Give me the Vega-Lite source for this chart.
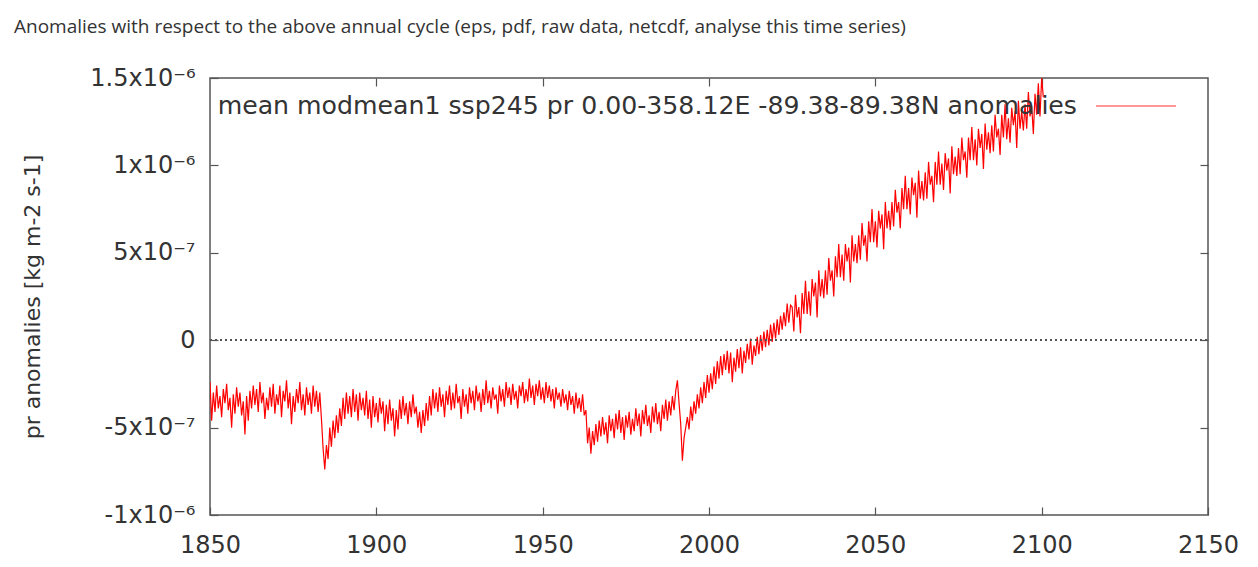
{
"$schema": "https://vega.github.io/schema/vega-lite/v6.json",
"width": 998, "height": 437,
"autosize": {"type": "none"},
"padding": {"left": 210, "top": 78, "right": 50, "bottom": 52},
"background": "white",
"title": {"text": "Anomalies with respect to the above annual cycle (eps, pdf, raw data, netcdf, analyse this time series)", "anchor": "start", "frame": "group", "dx": -196, "offset": 28, "fontSize": 19, "font": "Open Sans", "fontWeight": "normal", "color": "#333333"},
"config": {
  "view": {"stroke": "#555555", "strokeWidth": 1.5},
  "axis": {"domain": false, "grid": false, "tickColor": "#555555", "tickSize": -8, "tickWidth": 1.2, "labelFont": "DejaVu Sans", "labelFontSize": 24, "labelColor": "#333333", "titleFont": "DejaVu Sans", "titleFontWeight": "normal", "titleColor": "#333333"}
},
"data": {"values": [
{"year":1850.0,"pr":-2.4e-7},{"year":1850.5,"pr":-4.6e-7},{"year":1851.0,"pr":-3.0e-7},{"year":1851.5,"pr":-4.1e-7},{"year":1852.0,"pr":-2.6e-7},{"year":1852.5,"pr":-3.9e-7},{"year":1853.0,"pr":-3.2e-7},{"year":1853.5,"pr":-4.4e-7},{"year":1854.0,"pr":-2.8e-7},{"year":1854.5,"pr":-3.6e-7},
{"year":1855.0,"pr":-2.5e-7},{"year":1855.5,"pr":-4.0e-7},{"year":1856.0,"pr":-3.3e-7},{"year":1856.5,"pr":-5.0e-7},{"year":1857.0,"pr":-3.1e-7},{"year":1857.5,"pr":-4.2e-7},{"year":1858.0,"pr":-2.7e-7},{"year":1858.5,"pr":-3.8e-7},{"year":1859.0,"pr":-3.0e-7},{"year":1859.5,"pr":-4.3e-7},
{"year":1860.0,"pr":-3.5e-7},{"year":1860.5,"pr":-5.4e-7},{"year":1861.0,"pr":-3.2e-7},{"year":1861.5,"pr":-4.6e-7},{"year":1862.0,"pr":-2.9e-7},{"year":1862.5,"pr":-3.9e-7},{"year":1863.0,"pr":-2.6e-7},{"year":1863.5,"pr":-3.7e-7},{"year":1864.0,"pr":-2.8e-7},{"year":1864.5,"pr":-4.1e-7},
{"year":1865.0,"pr":-2.4e-7},{"year":1865.5,"pr":-3.6e-7},{"year":1866.0,"pr":-3.0e-7},{"year":1866.5,"pr":-4.5e-7},{"year":1867.0,"pr":-3.3e-7},{"year":1867.5,"pr":-4.0e-7},{"year":1868.0,"pr":-2.7e-7},{"year":1868.5,"pr":-3.8e-7},{"year":1869.0,"pr":-2.5e-7},{"year":1869.5,"pr":-4.2e-7},
{"year":1870.0,"pr":-3.1e-7},{"year":1870.5,"pr":-3.7e-7},{"year":1871.0,"pr":-2.6e-7},{"year":1871.5,"pr":-4.4e-7},{"year":1872.0,"pr":-2.9e-7},{"year":1872.5,"pr":-3.5e-7},{"year":1873.0,"pr":-2.3e-7},{"year":1873.5,"pr":-3.9e-7},{"year":1874.0,"pr":-3.0e-7},{"year":1874.5,"pr":-4.8e-7},
{"year":1875.0,"pr":-3.2e-7},{"year":1875.5,"pr":-4.1e-7},{"year":1876.0,"pr":-2.8e-7},{"year":1876.5,"pr":-3.6e-7},{"year":1877.0,"pr":-2.4e-7},{"year":1877.5,"pr":-4.0e-7},{"year":1878.0,"pr":-3.1e-7},{"year":1878.5,"pr":-4.3e-7},{"year":1879.0,"pr":-2.7e-7},{"year":1879.5,"pr":-3.7e-7},
{"year":1880.0,"pr":-3.0e-7},{"year":1880.5,"pr":-4.2e-7},{"year":1881.0,"pr":-2.6e-7},{"year":1881.5,"pr":-3.8e-7},{"year":1882.0,"pr":-2.9e-7},{"year":1882.5,"pr":-4.1e-7},{"year":1883.0,"pr":-3.0e-7},{"year":1883.5,"pr":-4.5e-7},{"year":1884.0,"pr":-6.2e-7},{"year":1884.5,"pr":-7.4e-7},
{"year":1885.0,"pr":-6.0e-7},{"year":1885.5,"pr":-6.8e-7},{"year":1886.0,"pr":-5.0e-7},{"year":1886.5,"pr":-6.1e-7},{"year":1887.0,"pr":-4.6e-7},{"year":1887.5,"pr":-5.6e-7},{"year":1888.0,"pr":-4.3e-7},{"year":1888.5,"pr":-5.3e-7},{"year":1889.0,"pr":-3.9e-7},{"year":1889.5,"pr":-4.9e-7},
{"year":1890.0,"pr":-3.3e-7},{"year":1890.5,"pr":-4.5e-7},{"year":1891.0,"pr":-3.0e-7},{"year":1891.5,"pr":-4.2e-7},{"year":1892.0,"pr":-3.2e-7},{"year":1892.5,"pr":-4.4e-7},{"year":1893.0,"pr":-2.8e-7},{"year":1893.5,"pr":-4.1e-7},{"year":1894.0,"pr":-3.1e-7},{"year":1894.5,"pr":-4.6e-7},
{"year":1895.0,"pr":-3.0e-7},{"year":1895.5,"pr":-4.0e-7},{"year":1896.0,"pr":-3.3e-7},{"year":1896.5,"pr":-4.3e-7},{"year":1897.0,"pr":-2.9e-7},{"year":1897.5,"pr":-4.5e-7},{"year":1898.0,"pr":-3.4e-7},{"year":1898.5,"pr":-5.0e-7},{"year":1899.0,"pr":-3.2e-7},{"year":1899.5,"pr":-4.4e-7},
{"year":1900.0,"pr":-3.6e-7},{"year":1900.5,"pr":-4.7e-7},{"year":1901.0,"pr":-3.3e-7},{"year":1901.5,"pr":-4.2e-7},{"year":1902.0,"pr":-3.5e-7},{"year":1902.5,"pr":-5.2e-7},{"year":1903.0,"pr":-3.7e-7},{"year":1903.5,"pr":-4.8e-7},{"year":1904.0,"pr":-3.4e-7},{"year":1904.5,"pr":-4.6e-7},
{"year":1905.0,"pr":-3.9e-7},{"year":1905.5,"pr":-5.5e-7},{"year":1906.0,"pr":-4.0e-7},{"year":1906.5,"pr":-5.1e-7},{"year":1907.0,"pr":-3.4e-7},{"year":1907.5,"pr":-4.5e-7},{"year":1908.0,"pr":-3.2e-7},{"year":1908.5,"pr":-4.3e-7},{"year":1909.0,"pr":-3.6e-7},{"year":1909.5,"pr":-4.8e-7},
{"year":1910.0,"pr":-3.5e-7},{"year":1910.5,"pr":-4.4e-7},{"year":1911.0,"pr":-3.1e-7},{"year":1911.5,"pr":-4.2e-7},{"year":1912.0,"pr":-3.8e-7},{"year":1912.5,"pr":-5.0e-7},{"year":1913.0,"pr":-4.1e-7},{"year":1913.5,"pr":-5.3e-7},{"year":1914.0,"pr":-4.0e-7},{"year":1914.5,"pr":-4.9e-7},
{"year":1915.0,"pr":-3.6e-7},{"year":1915.5,"pr":-4.6e-7},{"year":1916.0,"pr":-3.2e-7},{"year":1916.5,"pr":-4.3e-7},{"year":1917.0,"pr":-2.8e-7},{"year":1917.5,"pr":-3.9e-7},{"year":1918.0,"pr":-3.0e-7},{"year":1918.5,"pr":-4.1e-7},{"year":1919.0,"pr":-2.7e-7},{"year":1919.5,"pr":-3.8e-7},
{"year":1920.0,"pr":-3.1e-7},{"year":1920.5,"pr":-4.4e-7},{"year":1921.0,"pr":-2.9e-7},{"year":1921.5,"pr":-3.7e-7},{"year":1922.0,"pr":-2.6e-7},{"year":1922.5,"pr":-4.0e-7},{"year":1923.0,"pr":-3.0e-7},{"year":1923.5,"pr":-3.9e-7},{"year":1924.0,"pr":-2.5e-7},{"year":1924.5,"pr":-3.6e-7},
{"year":1925.0,"pr":-3.2e-7},{"year":1925.5,"pr":-4.5e-7},{"year":1926.0,"pr":-2.8e-7},{"year":1926.5,"pr":-3.8e-7},{"year":1927.0,"pr":-3.1e-7},{"year":1927.5,"pr":-4.2e-7},{"year":1928.0,"pr":-2.7e-7},{"year":1928.5,"pr":-3.6e-7},{"year":1929.0,"pr":-2.9e-7},{"year":1929.5,"pr":-4.0e-7},
{"year":1930.0,"pr":-2.6e-7},{"year":1930.5,"pr":-3.5e-7},{"year":1931.0,"pr":-3.0e-7},{"year":1931.5,"pr":-4.1e-7},{"year":1932.0,"pr":-2.8e-7},{"year":1932.5,"pr":-3.7e-7},{"year":1933.0,"pr":-2.3e-7},{"year":1933.5,"pr":-3.6e-7},{"year":1934.0,"pr":-2.9e-7},{"year":1934.5,"pr":-3.9e-7},
{"year":1935.0,"pr":-2.7e-7},{"year":1935.5,"pr":-3.4e-7},{"year":1936.0,"pr":-3.1e-7},{"year":1936.5,"pr":-4.2e-7},{"year":1937.0,"pr":-2.6e-7},{"year":1937.5,"pr":-3.5e-7},{"year":1938.0,"pr":-2.8e-7},{"year":1938.5,"pr":-3.8e-7},{"year":1939.0,"pr":-2.4e-7},{"year":1939.5,"pr":-3.3e-7},
{"year":1940.0,"pr":-2.7e-7},{"year":1940.5,"pr":-3.7e-7},{"year":1941.0,"pr":-2.5e-7},{"year":1941.5,"pr":-3.4e-7},{"year":1942.0,"pr":-2.9e-7},{"year":1942.5,"pr":-3.9e-7},{"year":1943.0,"pr":-2.6e-7},{"year":1943.5,"pr":-3.2e-7},{"year":1944.0,"pr":-2.4e-7},{"year":1944.5,"pr":-3.6e-7},
{"year":1945.0,"pr":-2.8e-7},{"year":1945.5,"pr":-3.5e-7},{"year":1946.0,"pr":-2.2e-7},{"year":1946.5,"pr":-3.3e-7},{"year":1947.0,"pr":-2.6e-7},{"year":1947.5,"pr":-3.7e-7},{"year":1948.0,"pr":-2.5e-7},{"year":1948.5,"pr":-3.2e-7},{"year":1949.0,"pr":-2.3e-7},{"year":1949.5,"pr":-3.4e-7},
{"year":1950.0,"pr":-2.7e-7},{"year":1950.5,"pr":-3.6e-7},{"year":1951.0,"pr":-2.4e-7},{"year":1951.5,"pr":-3.3e-7},{"year":1952.0,"pr":-2.6e-7},{"year":1952.5,"pr":-3.5e-7},{"year":1953.0,"pr":-2.8e-7},{"year":1953.5,"pr":-3.9e-7},{"year":1954.0,"pr":-2.7e-7},{"year":1954.5,"pr":-3.4e-7},
{"year":1955.0,"pr":-3.0e-7},{"year":1955.5,"pr":-3.8e-7},{"year":1956.0,"pr":-2.8e-7},{"year":1956.5,"pr":-3.6e-7},{"year":1957.0,"pr":-3.1e-7},{"year":1957.5,"pr":-4.0e-7},{"year":1958.0,"pr":-2.9e-7},{"year":1958.5,"pr":-3.7e-7},{"year":1959.0,"pr":-3.2e-7},{"year":1959.5,"pr":-4.2e-7},
{"year":1960.0,"pr":-3.0e-7},{"year":1960.5,"pr":-3.9e-7},{"year":1961.0,"pr":-3.3e-7},{"year":1961.5,"pr":-4.1e-7},{"year":1962.0,"pr":-3.1e-7},{"year":1962.5,"pr":-4.3e-7},{"year":1963.0,"pr":-4.0e-7},{"year":1963.5,"pr":-5.9e-7},{"year":1964.0,"pr":-5.0e-7},{"year":1964.5,"pr":-6.5e-7},
{"year":1965.0,"pr":-5.2e-7},{"year":1965.5,"pr":-6.0e-7},{"year":1966.0,"pr":-4.8e-7},{"year":1966.5,"pr":-5.8e-7},{"year":1967.0,"pr":-4.6e-7},{"year":1967.5,"pr":-5.5e-7},{"year":1968.0,"pr":-4.4e-7},{"year":1968.5,"pr":-5.4e-7},{"year":1969.0,"pr":-4.7e-7},{"year":1969.5,"pr":-5.9e-7},
{"year":1970.0,"pr":-4.3e-7},{"year":1970.5,"pr":-5.2e-7},{"year":1971.0,"pr":-4.5e-7},{"year":1971.5,"pr":-5.6e-7},{"year":1972.0,"pr":-4.2e-7},{"year":1972.5,"pr":-5.1e-7},{"year":1973.0,"pr":-4.0e-7},{"year":1973.5,"pr":-5.3e-7},{"year":1974.0,"pr":-4.4e-7},{"year":1974.5,"pr":-5.7e-7},
{"year":1975.0,"pr":-4.3e-7},{"year":1975.5,"pr":-5.0e-7},{"year":1976.0,"pr":-4.1e-7},{"year":1976.5,"pr":-5.4e-7},{"year":1977.0,"pr":-4.5e-7},{"year":1977.5,"pr":-5.2e-7},{"year":1978.0,"pr":-3.9e-7},{"year":1978.5,"pr":-4.9e-7},{"year":1979.0,"pr":-4.2e-7},{"year":1979.5,"pr":-5.5e-7},
{"year":1980.0,"pr":-4.0e-7},{"year":1980.5,"pr":-4.8e-7},{"year":1981.0,"pr":-3.7e-7},{"year":1981.5,"pr":-4.9e-7},{"year":1982.0,"pr":-4.3e-7},{"year":1982.5,"pr":-5.3e-7},{"year":1983.0,"pr":-3.8e-7},{"year":1983.5,"pr":-4.7e-7},{"year":1984.0,"pr":-3.6e-7},{"year":1984.5,"pr":-4.8e-7},
{"year":1985.0,"pr":-4.1e-7},{"year":1985.5,"pr":-5.2e-7},{"year":1986.0,"pr":-3.7e-7},{"year":1986.5,"pr":-4.5e-7},{"year":1987.0,"pr":-3.4e-7},{"year":1987.5,"pr":-4.6e-7},{"year":1988.0,"pr":-3.5e-7},{"year":1988.5,"pr":-4.3e-7},{"year":1989.0,"pr":-3.2e-7},{"year":1989.5,"pr":-4.0e-7},
{"year":1990.0,"pr":-2.9e-7},{"year":1990.5,"pr":-2.3e-7},{"year":1991.0,"pr":-3.6e-7},{"year":1991.5,"pr":-4.8e-7},{"year":1992.0,"pr":-6.9e-7},{"year":1992.5,"pr":-5.6e-7},{"year":1993.0,"pr":-5.0e-7},{"year":1993.5,"pr":-4.4e-7},{"year":1994.0,"pr":-5.1e-7},{"year":1994.5,"pr":-3.8e-7},
{"year":1995.0,"pr":-4.6e-7},{"year":1995.5,"pr":-3.5e-7},{"year":1996.0,"pr":-4.2e-7},{"year":1996.5,"pr":-3.1e-7},{"year":1997.0,"pr":-3.9e-7},{"year":1997.5,"pr":-2.7e-7},{"year":1998.0,"pr":-3.6e-7},{"year":1998.5,"pr":-2.4e-7},{"year":1999.0,"pr":-3.3e-7},{"year":1999.5,"pr":-2.0e-7},
{"year":2000.0,"pr":-3.0e-7},{"year":2000.5,"pr":-1.9e-7},{"year":2001.0,"pr":-2.8e-7},{"year":2001.5,"pr":-1.5e-7},{"year":2002.0,"pr":-2.5e-7},{"year":2002.5,"pr":-1.2e-7},{"year":2003.0,"pr":-2.2e-7},{"year":2003.5,"pr":-0.9e-7},{"year":2004.0,"pr":-2.0e-7},{"year":2004.5,"pr":-0.8e-7},
{"year":2005.0,"pr":-1.7e-7},{"year":2005.5,"pr":-0.6e-7},{"year":2006.0,"pr":-1.9e-7},{"year":2006.5,"pr":-0.7e-7},{"year":2007.0,"pr":-2.4e-7},{"year":2007.5,"pr":-1.0e-7},{"year":2008.0,"pr":-1.8e-7},{"year":2008.5,"pr":-0.5e-7},{"year":2009.0,"pr":-1.6e-7},{"year":2009.5,"pr":-0.4e-7},
{"year":2010.0,"pr":-1.9e-7},{"year":2010.5,"pr":-0.6e-7},{"year":2011.0,"pr":-1.3e-7},{"year":2011.5,"pr":-0.2e-7},{"year":2012.0,"pr":-1.1e-7},{"year":2012.5,"pr":0.1e-7},{"year":2013.0,"pr":-1.4e-7},{"year":2013.5,"pr":-0.3e-7},{"year":2014.0,"pr":-0.9e-7},{"year":2014.5,"pr":0.2e-7},
{"year":2015.0,"pr":-0.8e-7},{"year":2015.5,"pr":0.3e-7},{"year":2016.0,"pr":-0.6e-7},{"year":2016.5,"pr":0.5e-7},{"year":2017.0,"pr":-0.4e-7},{"year":2017.5,"pr":0.6e-7},{"year":2018.0,"pr":-0.3e-7},{"year":2018.5,"pr":0.9e-7},{"year":2019.0,"pr":-0.1e-7},{"year":2019.5,"pr":1.0e-7},
{"year":2020.0,"pr":0.1e-7},{"year":2020.5,"pr":1.2e-7},{"year":2021.0,"pr":0.3e-7},{"year":2021.5,"pr":1.4e-7},{"year":2022.0,"pr":0.6e-7},{"year":2022.5,"pr":1.6e-7},{"year":2023.0,"pr":0.8e-7},{"year":2023.5,"pr":2.1e-7},{"year":2024.0,"pr":1.0e-7},{"year":2024.5,"pr":2.0e-7},
{"year":2025.0,"pr":1.9e-7},{"year":2025.5,"pr":0.5e-7},{"year":2026.0,"pr":2.6e-7},{"year":2026.5,"pr":1.3e-7},{"year":2027.0,"pr":1.9e-7},{"year":2027.5,"pr":0.4e-7},{"year":2028.0,"pr":2.7e-7},{"year":2028.5,"pr":1.5e-7},{"year":2029.0,"pr":3.4e-7},{"year":2029.5,"pr":1.5e-7},
{"year":2030.0,"pr":2.8e-7},{"year":2030.5,"pr":1.4e-7},{"year":2031.0,"pr":3.5e-7},{"year":2031.5,"pr":2.5e-7},{"year":2032.0,"pr":3.3e-7},{"year":2032.5,"pr":1.3e-7},{"year":2033.0,"pr":4.0e-7},{"year":2033.5,"pr":2.5e-7},{"year":2034.0,"pr":3.5e-7},{"year":2034.5,"pr":2.4e-7},
{"year":2035.0,"pr":4.0e-7},{"year":2035.5,"pr":2.6e-7},{"year":2036.0,"pr":4.7e-7},{"year":2036.5,"pr":3.4e-7},{"year":2037.0,"pr":4.0e-7},{"year":2037.5,"pr":2.5e-7},{"year":2038.0,"pr":4.8e-7},{"year":2038.5,"pr":3.6e-7},{"year":2039.0,"pr":5.5e-7},{"year":2039.5,"pr":3.6e-7},
{"year":2040.0,"pr":4.9e-7},{"year":2040.5,"pr":3.4e-7},{"year":2041.0,"pr":5.5e-7},{"year":2041.5,"pr":4.5e-7},{"year":2042.0,"pr":5.3e-7},{"year":2042.5,"pr":3.3e-7},{"year":2043.0,"pr":6.0e-7},{"year":2043.5,"pr":4.5e-7},{"year":2044.0,"pr":5.5e-7},{"year":2044.5,"pr":4.4e-7},
{"year":2045.0,"pr":6.0e-7},{"year":2045.5,"pr":4.6e-7},{"year":2046.0,"pr":6.7e-7},{"year":2046.5,"pr":5.4e-7},{"year":2047.0,"pr":6.0e-7},{"year":2047.5,"pr":4.5e-7},{"year":2048.0,"pr":6.8e-7},{"year":2048.5,"pr":5.6e-7},{"year":2049.0,"pr":7.5e-7},{"year":2049.5,"pr":5.6e-7},
{"year":2050.0,"pr":6.8e-7},{"year":2050.5,"pr":5.3e-7},{"year":2051.0,"pr":7.4e-7},{"year":2051.5,"pr":6.4e-7},{"year":2052.0,"pr":7.2e-7},{"year":2052.5,"pr":5.2e-7},{"year":2053.0,"pr":7.9e-7},{"year":2053.5,"pr":6.4e-7},{"year":2054.0,"pr":7.4e-7},{"year":2054.5,"pr":6.3e-7},
{"year":2055.0,"pr":7.9e-7},{"year":2055.5,"pr":6.5e-7},{"year":2056.0,"pr":8.6e-7},{"year":2056.5,"pr":7.3e-7},{"year":2057.0,"pr":7.9e-7},{"year":2057.5,"pr":6.4e-7},{"year":2058.0,"pr":8.7e-7},{"year":2058.5,"pr":7.5e-7},{"year":2059.0,"pr":9.4e-7},{"year":2059.5,"pr":7.5e-7},
{"year":2060.0,"pr":8.7e-7},{"year":2060.5,"pr":7.2e-7},{"year":2061.0,"pr":9.3e-7},{"year":2061.5,"pr":8.3e-7},{"year":2062.0,"pr":9.0e-7},{"year":2062.5,"pr":7.0e-7},{"year":2063.0,"pr":9.7e-7},{"year":2063.5,"pr":8.1e-7},{"year":2064.0,"pr":9.1e-7},{"year":2064.5,"pr":8.0e-7},
{"year":2065.0,"pr":9.6e-7},{"year":2065.5,"pr":8.1e-7},{"year":2066.0,"pr":10.2e-7},{"year":2066.5,"pr":8.9e-7},{"year":2067.0,"pr":9.4e-7},{"year":2067.5,"pr":7.9e-7},{"year":2068.0,"pr":10.2e-7},{"year":2068.5,"pr":8.9e-7},{"year":2069.0,"pr":10.8e-7},{"year":2069.5,"pr":8.9e-7},
{"year":2070.0,"pr":10.1e-7},{"year":2070.5,"pr":8.6e-7},{"year":2071.0,"pr":10.7e-7},{"year":2071.5,"pr":9.7e-7},{"year":2072.0,"pr":10.4e-7},{"year":2072.5,"pr":8.4e-7},{"year":2073.0,"pr":11.1e-7},{"year":2073.5,"pr":9.5e-7},{"year":2074.0,"pr":10.5e-7},{"year":2074.5,"pr":9.4e-7},
{"year":2075.0,"pr":11.0e-7},{"year":2075.5,"pr":9.5e-7},{"year":2076.0,"pr":11.6e-7},{"year":2076.5,"pr":10.3e-7},{"year":2077.0,"pr":10.8e-7},{"year":2077.5,"pr":9.3e-7},{"year":2078.0,"pr":11.6e-7},{"year":2078.5,"pr":10.3e-7},{"year":2079.0,"pr":12.2e-7},{"year":2079.5,"pr":10.3e-7},
{"year":2080.0,"pr":11.5e-7},{"year":2080.5,"pr":10.0e-7},{"year":2081.0,"pr":12.1e-7},{"year":2081.5,"pr":11.0e-7},{"year":2082.0,"pr":11.8e-7},{"year":2082.5,"pr":9.8e-7},{"year":2083.0,"pr":12.4e-7},{"year":2083.5,"pr":10.9e-7},{"year":2084.0,"pr":11.9e-7},{"year":2084.5,"pr":10.7e-7},
{"year":2085.0,"pr":12.3e-7},{"year":2085.5,"pr":10.8e-7},{"year":2086.0,"pr":12.9e-7},{"year":2086.5,"pr":11.6e-7},{"year":2087.0,"pr":12.1e-7},{"year":2087.5,"pr":10.6e-7},{"year":2088.0,"pr":12.9e-7},{"year":2088.5,"pr":11.6e-7},{"year":2089.0,"pr":13.5e-7},{"year":2089.5,"pr":11.5e-7},
{"year":2090.0,"pr":12.7e-7},{"year":2090.5,"pr":11.3e-7},{"year":2091.0,"pr":13.3e-7},{"year":2091.5,"pr":12.3e-7},{"year":2092.0,"pr":13.1e-7},{"year":2092.5,"pr":11.0e-7},{"year":2093.0,"pr":13.7e-7},{"year":2093.5,"pr":12.1e-7},{"year":2094.0,"pr":13.1e-7},{"year":2094.5,"pr":12.0e-7},
{"year":2095.0,"pr":13.5e-7},{"year":2095.5,"pr":12.1e-7},{"year":2096.0,"pr":14.2e-7},{"year":2096.5,"pr":12.8e-7},{"year":2097.0,"pr":13.4e-7},{"year":2097.5,"pr":11.8e-7},{"year":2098.0,"pr":14.1e-7},{"year":2098.5,"pr":12.9e-7},{"year":2099.0,"pr":14.7e-7},{"year":2099.5,"pr":12.8e-7},
{"year":2100.0,"pr":15.0e-7},{"year":2100.5,"pr":13.9e-7}
]},
"resolve": {"axis": {"x": "independent", "y": "independent"}},
"layer": [
  {
    "mark": {"type": "line", "strokeWidth": 1.2, "clip": true},
    "encoding": {
      "x": {"field": "year", "type": "quantitative", "scale": {"domain": [1850, 2150], "nice": false, "zero": false},
            "axis": {"orient": "bottom", "values": [1850, 1900, 1950, 2000, 2050, 2100, 2150], "format": "d", "labelPadding": 26, "title": null, "labelFlush": false}},
      "y": {"field": "pr", "type": "quantitative", "scale": {"domain": [-1e-6, 1.5e-6], "nice": false, "zero": false},
            "axis": {"orient": "left", "values": [-1e-6, -5e-7, 0, 5e-7, 1e-6, 1.5e-6], "labelPadding": 23, "labelFlush": false,
                     "labelExpr": "datum.value == 0 ? '0' : datum.value > 1.2e-6 ? '1.5x10⁻⁶' : datum.value > 7e-7 ? '1x10⁻⁶' : datum.value > 2e-7 ? '5x10⁻⁷' : datum.value > -7e-7 ? '-5x10⁻⁷' : '-1x10⁻⁶'",
                     "title": "pr anomalies [kg m-2 s-1]", "titleFontSize": 22, "titleX": -166}},
      "color": {"datum": "mean modmean1 ssp245 pr 0.00-358.12E -89.38-89.38N anomalies", "type": "nominal", "scale": {"range": ["#ff0000"]},
                "legend": {"orient": "none", "legendX": 885, "legendY": -13, "padding": 0, "title": null, "symbolType": "stroke", "symbolSize": 6400, "symbolStrokeWidth": 1.5, "symbolOpacity": 0.55, "labelAlign": "right", "labelOffset": -100, "labelFont": "DejaVu Sans", "labelFontSize": 25.2, "labelColor": "#333333", "labelLimit": 2000}}
    }
  },
  {
    "mark": {"type": "rule", "strokeDash": [2, 3], "color": "#555555", "strokeWidth": 1},
    "encoding": {
      "x": {"datum": 1850, "type": "quantitative", "axis": {"orient": "top", "values": [1900, 1950, 2000, 2050, 2100], "labels": false, "title": null}},
      "x2": {"datum": 2150},
      "y": {"datum": 0, "type": "quantitative", "axis": {"orient": "right", "values": [-5e-7, 0, 5e-7, 1e-6], "labels": false, "title": null}}
    }
  }
]
}
